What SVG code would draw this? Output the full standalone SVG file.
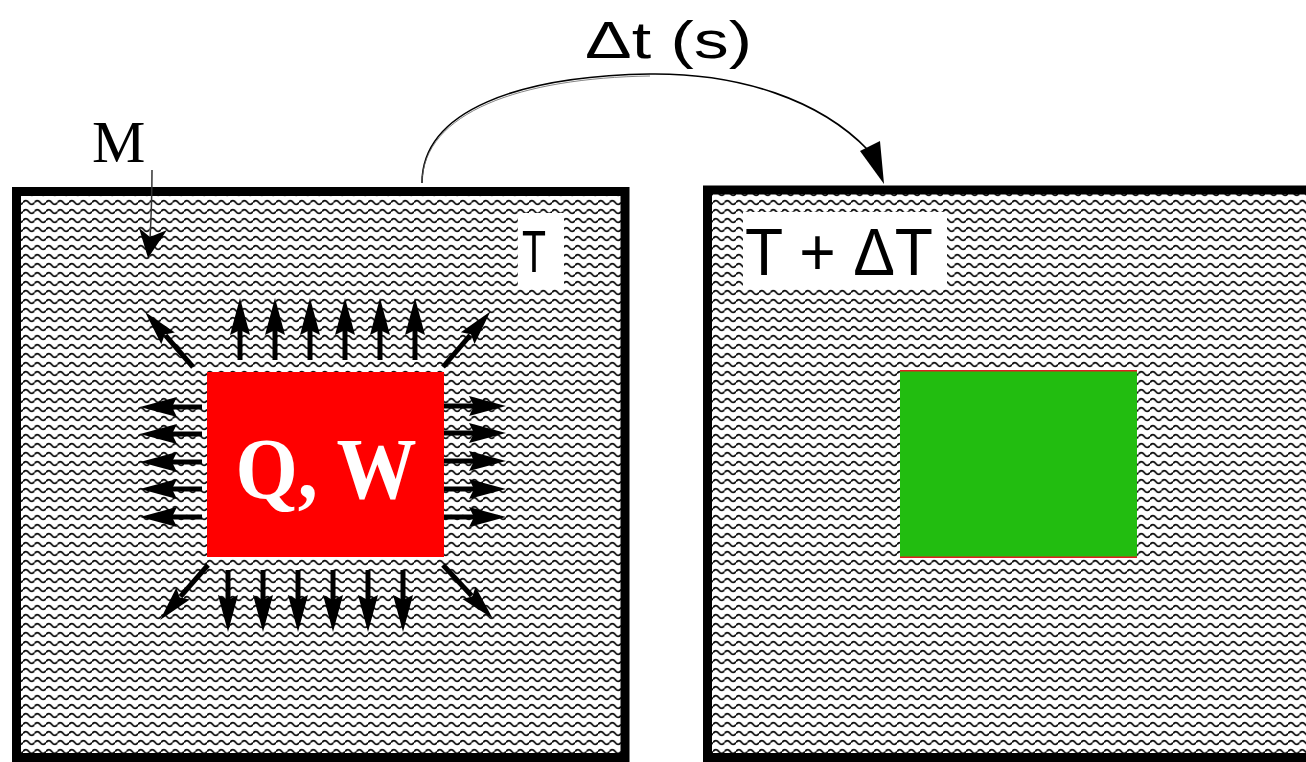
<svg xmlns="http://www.w3.org/2000/svg" xmlns:xlink="http://www.w3.org/1999/xlink" width="1306" height="762" viewBox="0 0 1306 762">
<style>
.frame{fill:url(#wave);stroke:#000;stroke-width:9}
.lbl{font-family:"Liberation Sans",Arial,sans-serif;fill:#000}
.serif{font-family:"Liberation Serif","Times New Roman",serif}
</style>
<defs>
<pattern id="wave" width="11.5" height="9" patternUnits="userSpaceOnUse">
<rect width="11.5" height="9" fill="#fff"/>
<path d="M0,4.5 C1.9,2 3.85,2 5.75,4.5 C7.65,7 9.6,7 11.5,4.5" fill="none" stroke="#111" stroke-width="1.9"/>
</pattern>
<g id="ah">
<rect x="0" y="-2.5" width="32" height="5"/>
<path d="M62,0 L25,-10 L30,0 L25,10 Z"/>
</g>
<g id="ahd">
<rect x="0" y="-2.5" width="42" height="5"/>
<path d="M73,0 L38,-9 L43,0 L38,9 Z"/>
</g>
</defs>
<rect width="1306" height="762" fill="#fff"/>

<g id="left-box">
<rect class="frame" x="16.5" y="191.5" width="608.5" height="566"/>
<rect x="518" y="213" width="46" height="76" fill="#fff"/>
<text class="lbl" x="522" y="272" font-size="60" textLength="24" lengthAdjust="spacingAndGlyphs">T</text>
</g>

<g id="right-box">
<rect class="frame" x="707.5" y="190" width="620" height="567.5"/>
<rect x="743" y="212" width="204" height="76" fill="#fff"/>
<text class="lbl" x="745" y="275" font-size="66" textLength="188" lengthAdjust="spacingAndGlyphs">T + ΔT</text>
</g>

<g id="source">
<rect x="207" y="372" width="237" height="185" fill="#ff0000"/>
<text class="serif" x="326" y="498" font-size="86" font-weight="bold" fill="#fff" text-anchor="middle" textLength="181" lengthAdjust="spacingAndGlyphs">Q, W</text>
</g>

<g id="result">
<rect x="900" y="370" width="237" height="188" fill="#e02020"/>
<rect x="900" y="371.5" width="237" height="185" fill="#22bd10"/>
</g>

<g id="label-M">
<text class="serif" x="92" y="162" font-size="60" fill="#000">M</text>
</g>

<g id="label-dt">
<text class="lbl" x="585" y="58" font-size="52" textLength="167" lengthAdjust="spacingAndGlyphs">Δt (s)</text>
</g>

<g id="connectors">
<path d="M152,170 C152,200 151,220 150,240" fill="none" stroke="#333" stroke-width="1.5"/>
<path d="M148,258 L139,228 L150,237 L167,230 Z" fill="#000"/>
<path d="M422,183 C422,110 520,76 650,74 C740,73 820,100 868,150" fill="none" stroke="#000" stroke-width="1.6"/>
<path d="M422,183 C423,112 521,78 650,76" fill="none" stroke="#666" stroke-width="0.8"/>
<path d="M860,151 L880,141 L884,184 Z" fill="#000"/>

<g id="flux" fill="#000">
<use xlink:href="#ah" transform="translate(240,360) rotate(-90)"/>
<use xlink:href="#ah" transform="translate(275,360) rotate(-90)"/>
<use xlink:href="#ah" transform="translate(310,360) rotate(-90)"/>
<use xlink:href="#ah" transform="translate(345,360) rotate(-90)"/>
<use xlink:href="#ah" transform="translate(380,360) rotate(-90)"/>
<use xlink:href="#ah" transform="translate(415,360) rotate(-90)"/>

<use xlink:href="#ah" transform="translate(228,570) rotate(90)"/>
<use xlink:href="#ah" transform="translate(263,570) rotate(90)"/>
<use xlink:href="#ah" transform="translate(298,570) rotate(90)"/>
<use xlink:href="#ah" transform="translate(333,570) rotate(90)"/>
<use xlink:href="#ah" transform="translate(368,570) rotate(90)"/>
<use xlink:href="#ah" transform="translate(403,570) rotate(90)"/>

<use xlink:href="#ah" transform="translate(202,407) rotate(180)"/>
<use xlink:href="#ah" transform="translate(202,434) rotate(180)"/>
<use xlink:href="#ah" transform="translate(202,462) rotate(180)"/>
<use xlink:href="#ah" transform="translate(202,489) rotate(180)"/>
<use xlink:href="#ah" transform="translate(202,517) rotate(180)"/>

<use xlink:href="#ah" transform="translate(444,406)"/>
<use xlink:href="#ah" transform="translate(444,433)"/>
<use xlink:href="#ah" transform="translate(444,461)"/>
<use xlink:href="#ah" transform="translate(444,489)"/>
<use xlink:href="#ah" transform="translate(444,517)"/>

<use xlink:href="#ahd" transform="translate(193,367) rotate(-131)"/>
<use xlink:href="#ahd" transform="translate(443,367) rotate(-49.5)"/>
<use xlink:href="#ahd" transform="translate(208,565) rotate(131)"/>
<use xlink:href="#ahd" transform="translate(443,565) rotate(47)"/>
</g>
</g>
</svg>
